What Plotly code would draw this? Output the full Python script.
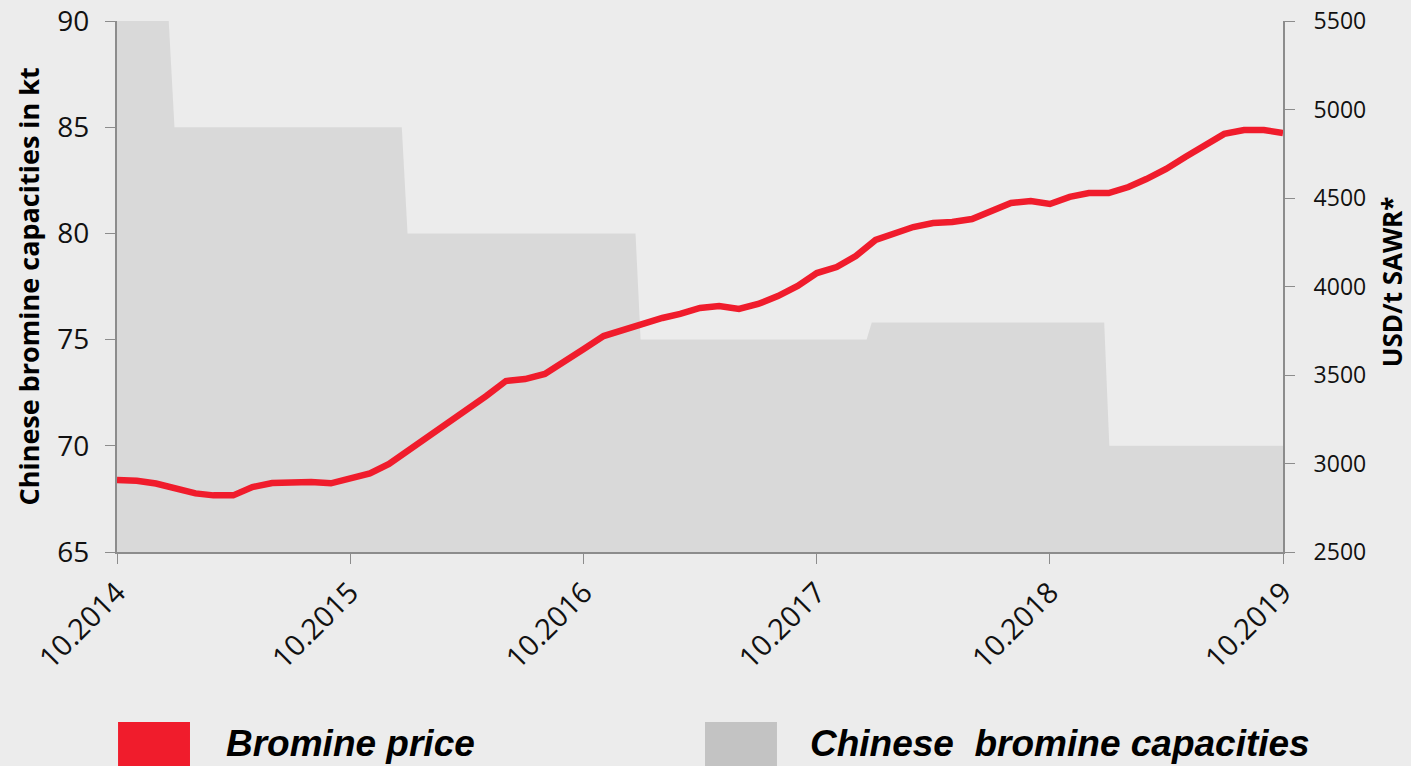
import pandas as pd
import plotly.graph_objects as go

# ---- data ----
price_dates = pd.date_range("2014-10-01", periods=61, freq="MS")
price_values = [
    2907, 2903, 2887, 2862, 2831, 2820, 2820, 2867, 2890, 2892,
    2895, 2888, 2918, 2944, 2997, 3076, 3150, 3218, 3302, 3381,
    3466, 3477, 3506, 3573, 3647, 3720, 3754, 3782, 3822, 3845,
    3879, 3890, 3873, 3901, 3946, 4003, 4076, 4110, 4172, 4263,
    4302, 4336, 4359, 4364, 4381, 4426, 4472, 4483, 4466, 4506,
    4528, 4528, 4562, 4607, 4664, 4732, 4794, 4862, 4884, 4884,
    4867,
]

cap_dates = ["2014-10-01", "2014-12-21", "2014-12-30", "2015-12-21", "2015-12-30",
             "2016-12-21", "2016-12-29", "2017-12-18", "2017-12-26", "2018-12-25",
             "2019-01-02", "2019-10-01"]
cap_values = [90, 90, 85, 85, 80, 80, 75, 75, 75.8, 75.8, 70, 70]

tick_dates = ["2014-10-01", "2015-10-01", "2016-10-01", "2017-10-01", "2018-10-01", "2019-10-01"]
tick_labels = ["10.2014", "10.2015", "10.2016", "10.2017", "10.2018", "10.2019"]

left_ticks = [65, 70, 75, 80, 85, 90]
right_ticks = [2500, 3000, 3500, 4000, 4500, 5000, 5500]

RED = "#f01c2c"
FILL = "#d9d9d9"
BG = "#ececec"
AX = "#8c8c8c"
FONT = "Open Sans"

fig = go.Figure()
fig.add_trace(go.Scatter(
    x=cap_dates, y=cap_values, mode="lines", fill="tozeroy",
    fillcolor=FILL, line=dict(width=0, color=FILL),
    name="Chinese  bromine capacities", yaxis="y", showlegend=False,
))
fig.add_trace(go.Scatter(
    x=price_dates, y=price_values, mode="lines",
    line=dict(color=RED, width=6.5), name="Bromine price",
    yaxis="y2", showlegend=False,
))

fig.update_layout(
    width=1411, height=766,
    paper_bgcolor=BG, plot_bgcolor=BG,
    margin=dict(l=117, r=128, t=21, b=214, autoexpand=False),
    font=dict(family=FONT, color="#111111"),
    showlegend=False,
    xaxis=dict(
        type="date", range=["2014-10-01", "2019-10-01"],
        tickvals=tick_dates, ticktext=tick_labels, tickangle=-45,
        tickfont=dict(size=29, family=FONT),
        showline=True, linecolor=AX, linewidth=2,
        ticks="outside", ticklen=10, tickcolor=AX, tickwidth=1,
        showgrid=False, zeroline=False, automargin=False,
    ),
    yaxis=dict(
        range=[65, 90], tickvals=left_ticks,
        tickfont=dict(size=28, family=FONT),
        showline=True, linecolor=AX, linewidth=2,
        ticks="outside", ticklen=10, tickcolor=AX, tickwidth=1,
        showgrid=False, zeroline=False, automargin=False,
        ticklabelstandoff=10,
    ),
    yaxis2=dict(
        range=[2500, 5500], tickvals=right_ticks, overlaying="y", side="right",
        tickfont=dict(size=23, family=FONT),
        showline=True, linecolor=AX, linewidth=2,
        ticks="outside", ticklen=10, tickcolor=AX, tickwidth=1,
        showgrid=False, zeroline=False, ticklabelstandoff=14, automargin=False,
    ),
)

# axis titles
fig.add_annotation(text="<b>Chinese bromine capacities in kt</b>", textangle=-90,
                   xref="paper", yref="paper", x=-0.0763, y=0.5,
                   xanchor="center", yanchor="middle", showarrow=False,
                   font=dict(size=27, family=FONT, color="#000000"))
fig.add_annotation(text="<b>USD/t SAWR*</b>", textangle=-90,
                   xref="paper", yref="paper", x=1.0935, y=0.508,
                   xanchor="center", yanchor="middle", showarrow=False,
                   font=dict(size=26, family=FONT, color="#000000"))

# custom legend
fig.add_shape(type="rect", xref="paper", yref="paper",
              x0=0.0009, x1=0.0626, y0=-0.42, y1=-0.320,
              fillcolor=RED, line=dict(width=0))
fig.add_shape(type="rect", xref="paper", yref="paper",
              x0=0.5043, x1=0.566, y0=-0.42, y1=-0.320,
              fillcolor="#c3c3c3", line=dict(width=0))
fig.add_annotation(text="<b><i>Bromine price</i></b>", xref="paper", yref="paper",
                   x=0.0918, y=-0.36, xanchor="left", yanchor="middle", showarrow=False,
                   font=dict(size=37, family="Liberation Sans", color="#000000"))
fig.add_annotation(text="<b><i>Chinese\u00a0 bromine capacities</i></b>", xref="paper", yref="paper",
                   x=0.5926, y=-0.36, xanchor="left", yanchor="middle", showarrow=False,
                   font=dict(size=37, family="Liberation Sans", color="#000000"))

fig.write_html("out.html", config={"displayModeBar": False},
               post_script="document.body.style.margin='0';")
